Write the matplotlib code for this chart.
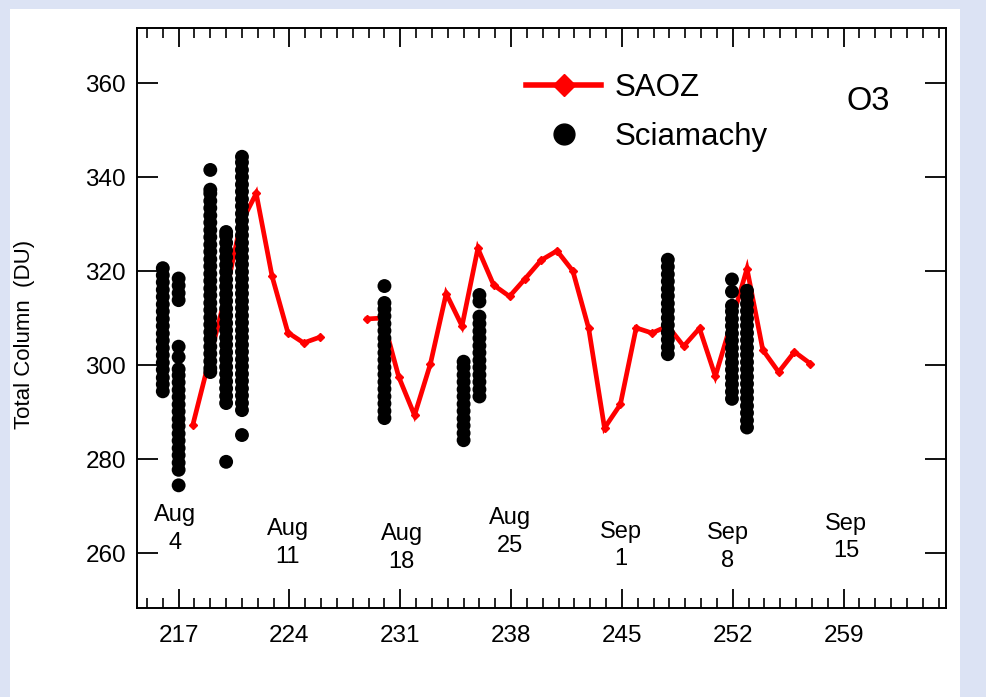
import numpy as np
import matplotlib
matplotlib.use("Agg")
import matplotlib.pyplot as plt
from matplotlib.lines import Line2D
from matplotlib.patches import Rectangle
from matplotlib.ticker import MultipleLocator, NullLocator

plt.rcParams['font.family'] = ['Liberation Sans', 'DejaVu Sans']

# ---------------- data ----------------
# SAOZ daily total ozone (day of year 2004, DU); NaN = no measurement
saoz_day = [217.9, 218.9, 219.9, 220.9, 221.9, 222.9, 223.9, 224.9, 225.9,
            226.9, 227.9,
            228.9, 229.9, 230.9, 231.9, 232.9, 233.9, 234.9, 235.9, 236.9,
            237.9, 238.9, 239.9, 240.9, 241.9, 242.9, 243.9, 244.9, 245.9,
            246.9, 247.9, 248.9, 249.9, 250.9, 251.9, 252.9, 253.9, 254.9,
            255.9, 256.9]
saoz_o3 = [287.4, 300.7, 314.0, 330.0, 336.6, 319.0, 307.0, 304.8, 306.0,
           np.nan, np.nan,
           309.9, 310.1, 297.6, 289.4, 300.3, 315.3, 308.4, 324.9, 317.1,
           314.7, 318.5, 322.4, 324.4, 320.1, 307.9, 286.7, 291.7, 308.0,
           306.9, 308.4, 304.1, 307.9, 297.7, 309.0, 320.6, 303.3, 298.6,
           302.9, 300.4]

# Sciamachy overpasses: day of year and individual ground-pixel values (DU)
sci_days = [216.0, 217.0, 219.0, 220.0, 221.0, 230.0, 235.0, 236.0,
            247.9, 251.95, 252.9]
sci_216 = [294.5, 296.0, 297.4, 299.1, 300.6, 302.2, 303.7, 305.3, 306.8,
           308.4, 309.9, 311.5, 313.0, 314.6, 316.1, 317.7, 319.2, 320.7]
sci_217 = [274.5, 277.8, 279.3, 280.9, 282.4, 284.0, 285.5, 287.1, 288.6,
           290.2, 291.7, 293.3, 294.8, 296.4, 297.9, 299.2, 301.8, 304.0,
           313.9, 315.4, 317.0, 318.5]
sci_219 = [298.6, 299.4, 300.9, 302.5, 304.0, 305.6, 307.1, 308.7, 310.2,
           311.8, 313.3, 314.9, 316.4, 318.0, 319.5, 321.1, 322.6, 324.2,
           325.7, 327.3, 328.8, 330.4, 331.9, 333.5, 335.0, 336.6, 337.4,
           341.6]
sci_220 = [279.5, 292.0, 293.5, 295.1, 296.6, 298.2, 299.7, 301.3, 302.8,
           304.4, 305.9, 307.5, 309.0, 310.6, 312.1, 313.7, 315.2, 316.8,
           318.3, 319.9, 321.4, 323.0, 324.5, 326.1, 327.6, 328.4]
sci_221 = [285.2, 290.5, 292.0, 293.6, 295.1, 296.7, 298.2, 299.8, 301.3,
           302.9, 304.4, 306.0, 307.5, 309.1, 310.6, 312.2, 313.7, 315.3,
           316.8, 318.4, 319.9, 321.5, 323.0, 324.6, 326.1, 327.7, 329.2,
           330.8, 332.3, 333.9, 335.4, 337.0, 338.5, 340.1, 341.6, 343.2,
           344.4]
sci_230 = [288.8, 290.3, 291.9, 293.4, 295.0, 296.5, 298.1, 299.6, 301.2,
           302.7, 304.3, 305.8, 307.4, 308.9, 310.5, 312.0, 313.3, 316.9]
sci_235 = [284.1, 285.6, 287.2, 288.7, 290.3, 291.8, 293.4, 294.9, 296.5,
           298.0, 299.6, 300.8]
sci_236 = [293.4, 294.9, 296.5, 298.0, 299.6, 301.1, 302.7, 304.2, 305.8,
           307.3, 308.9, 310.4, 313.6, 315.0]
sci_248 = [302.4, 303.9, 305.5, 307.0, 308.6, 310.1, 311.7, 313.2, 314.8,
           316.3, 317.9, 319.4, 321.0, 322.5]
sci_252a = [292.9, 294.4, 296.0, 297.5, 299.1, 300.6, 302.2, 303.7, 305.3,
            306.8, 308.4, 309.9, 311.5, 312.7, 315.7, 318.3]
sci_252b = [286.8, 288.3, 289.9, 291.4, 293.0, 294.5, 296.1, 297.6, 299.2,
            300.7, 302.3, 303.8, 305.4, 306.9, 308.5, 310.0, 311.6, 313.1,
            314.7, 315.9]
sci_values = [sci_216, sci_217, sci_219, sci_220, sci_221, sci_230, sci_235,
              sci_236, sci_248, sci_252a, sci_252b]

# Calendar annotations
date_labels = ["Aug\n4", "Aug\n11", "Aug\n18", "Aug\n25", "Sep\n1", "Sep\n8", "Sep\n15"]
date_x = [216.8, 223.9, 231.1, 237.95, 244.95, 251.7, 259.15]
date_y = [265.2, 262.2, 261.2, 264.6, 261.7, 261.3, 263.4]

xticks = [217, 224, 231, 238, 245, 252, 259]
yticks = [260, 280, 300, 320, 340, 360]

# ---------------- figure ----------------
W, H = 986, 697
fig = plt.figure(figsize=(W / 100, H / 100), dpi=100)
fig.patch.set_facecolor('#dce3f4')
fig.add_artist(Rectangle((10 / W, 0), (960 - 10) / W, (H - 9) / H,
                         transform=fig.transFigure, facecolor='white',
                         edgecolor='none', zorder=0))

L, R, T, B = 137, 946, 28, 608
ax = fig.add_axes([L / W, 1 - B / H, (R - L) / W, (B - T) / H])
ax.set_facecolor('white')

ax.plot(saoz_day, saoz_o3, color='#ff0000', lw=3.4, marker='D', ms=4.5,
        mfc='#ff0000', mec='#ff0000', zorder=2, solid_joinstyle='miter')

for d, vals in zip(sci_days, sci_values):
    ax.scatter([d] * len(vals), vals, s=100, color='black', edgecolors='none',
               zorder=3)

for lab, x, y in zip(date_labels, date_x, date_y):
    ax.text(x, y, lab, ha='center', va='center', fontsize=17,
            linespacing=1.35, zorder=4)

ax.set_xlim(214.37, 265.47)
ax.set_ylim(248.4, 371.8)
ax.set_xticks(xticks)
ax.set_xticklabels([str(t) for t in xticks])
ax.xaxis.set_minor_locator(MultipleLocator(1))
ax.set_yticks(yticks)
ax.yaxis.set_minor_locator(NullLocator())

ax.tick_params(axis='x', which='major', direction='in', length=14, width=1.3,
               top=True, bottom=True, labelsize=17.5, pad=12)
ax.tick_params(axis='x', which='minor', direction='in', length=7, width=1.2,
               top=True, bottom=True)
ax.tick_params(axis='y', which='major', direction='in', length=15, width=1.3,
               left=True, right=True, labelsize=17.5, pad=8)
for s in ax.spines.values():
    s.set_linewidth(1.4)
    s.set_color('black')

# legend
h_saoz = Line2D([], [], color='#ff0000', lw=4, marker='D', ms=11,
                mfc='#ff0000', mec='#ff0000')
h_sci = Line2D([], [], ls='none', marker='o', color='black', ms=15)
ax.legend([h_saoz, h_sci], ['SAOZ', 'Sciamachy'], loc='upper left',
          bbox_to_anchor=((526 - L) / (R - L), (B - 73) / (B - T)),
          frameon=False, fontsize=22.5, handlelength=2.4, handletextpad=0.45,
          labelspacing=0.6, borderpad=0, borderaxespad=0)

fig.text(868 / W, 1 - 102 / H, 'O3', ha='center', va='center', fontsize=23.5)
fig.text(25 / W, 1 - 334 / H, 'Total Column  (DU)', rotation=90,
         ha='center', va='center', fontsize=16)

fig.savefig('out.png', dpi=100, facecolor=fig.get_facecolor())
